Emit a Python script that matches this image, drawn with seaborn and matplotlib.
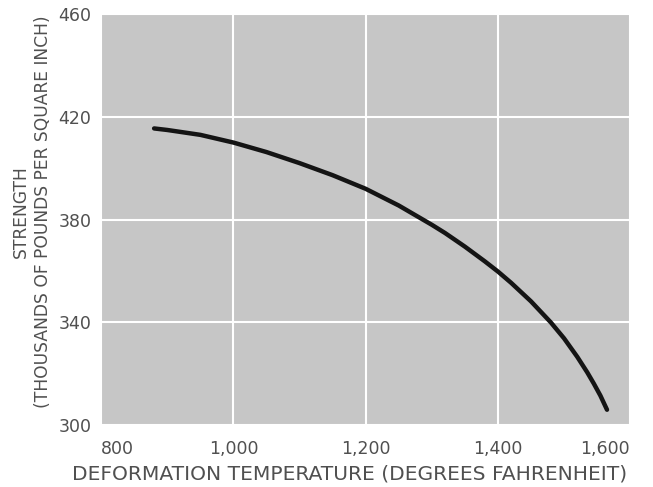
import pandas as pd
import matplotlib.pyplot as plt
import seaborn as sns
from matplotlib.ticker import FuncFormatter

# values
temperature_f = [880, 900, 950, 1000, 1050, 1100, 1150, 1200, 1250, 1300, 1320, 1350,
                 1380, 1400, 1420, 1450, 1480, 1500, 1520, 1535, 1545, 1555, 1565]
strength_ksi = [415.5, 414.9, 413, 410, 406.3, 402, 397.3, 392, 385.5, 378, 374.8, 369.5,
                363.8, 359.8, 355.4, 348.2, 340, 333.8, 326.6, 320.6, 316.2, 311.5, 306]

x_ticks = [800, 1000, 1200, 1400, 1600]
y_ticks = [300, 340, 380, 420, 460]

df = pd.DataFrame({"temp": temperature_f, "strength": strength_ksi})

sns.set_theme(style="darkgrid", rc={
    "axes.facecolor": "#c6c6c6",
    "grid.color": "white",
    "grid.linewidth": 1.5,
})
plt.rcParams["font.family"] = ["DejaVu Sans"]

text_color = "#505050"

fig = plt.figure(figsize=(6.53, 4.87), dpi=100)
ax = fig.add_axes([0.155, 0.127, 0.81, 0.844])

sns.lineplot(data=df, x="temp", y="strength", ax=ax, color="#141414",
             linewidth=3.2, sort=False)

ax.set_xlim(800, 1600)
ax.set_ylim(300, 460)
ax.set_xticks(x_ticks)
ax.set_yticks(y_ticks)
ax.xaxis.set_major_formatter(FuncFormatter(lambda v, p: f"{int(v):,}"))

ax.tick_params(axis="x", labelsize=12.5, colors=text_color, length=0, pad=11)
ax.tick_params(axis="y", labelsize=12.5, colors=text_color, length=0, pad=7)
# end labels sit inside the plot width, like the original
xlabels = ax.get_xticklabels()
xlabels[0].set_ha("left")
xlabels[-1].set_ha("right")

ax.set_xlabel("DEFORMATION TEMPERATURE (DEGREES FAHRENHEIT)", fontsize=14.6,
              color=text_color)
ax.xaxis.set_label_coords(0.469, -0.095)
ax.set_ylabel("STRENGTH\n(THOUSANDS OF POUNDS PER SQUARE INCH)", fontsize=12.3,
              color=text_color, linespacing=1.3)
ax.yaxis.set_label_coords(-0.093, 0.52)

for s in ax.spines.values():
    s.set_visible(False)

fig.savefig("out.png", dpi=100)
plt.close(fig)
